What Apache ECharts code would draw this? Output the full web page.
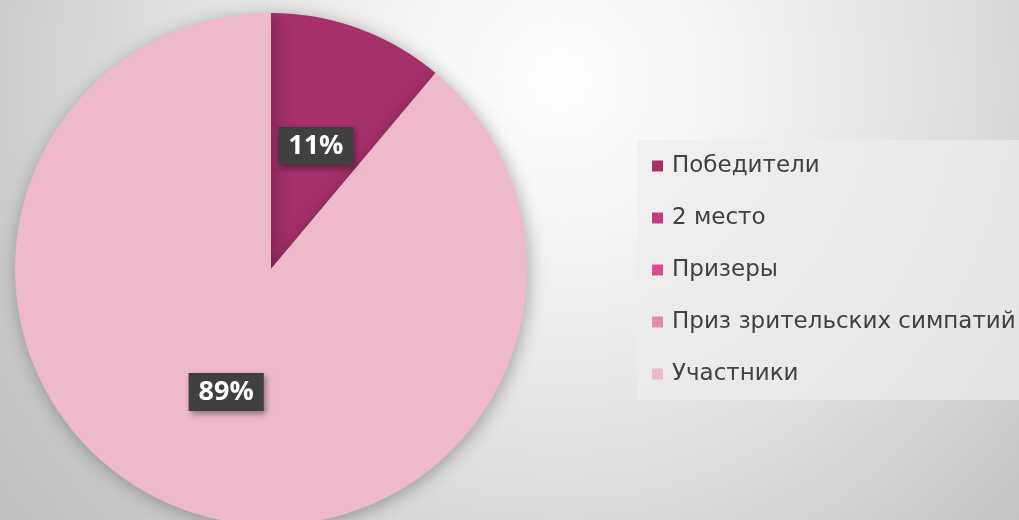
<!DOCTYPE html>
<html><head><meta charset="utf-8">
<script src="https://cdn.jsdelivr.net/npm/echarts@6/dist/echarts.min.js"></script>
<style>html,body{margin:0;padding:0;}#c{width:1019px;height:520px;}</style>
</head><body><div id="c"></div>
<script>
const categories = ['Победители', '2 место', 'Призеры', 'Приз зрительских симпатий', 'Участники'];
const values = [1, 0, 0, 0, 8];
const colors = ['#A5306A', '#C43D80', '#E04891', '#E68AB0', '#EEBACB'];

const chart = echarts.init(document.getElementById('c'));
const data = categories.map((n, i) => ({
  name: n, value: values[i],
  itemStyle: {color: colors[i]},
  label: {show: values[i] > 0}
}));
chart.setOption({
  backgroundColor: {type: 'radial', x: 560, y: 80, r: 700, global: true,
    colorStops: [{offset: 0, color: '#FFFFFF'}, {offset: 0.15, color: '#F8F8F8'}, {offset: 0.6, color: '#DDDDDD'}, {offset: 0.86, color: '#C7C7C7'}, {offset: 1, color: '#C0C0C0'}]},
  legend: {
    orient: 'vertical', left: 637, top: 140,
    data: categories,
    icon: 'rect', itemWidth: 11, itemHeight: 11, itemGap: 28, itemStyle: {borderWidth: 0},
    backgroundColor: 'rgba(236,236,236,0.7)',
    padding: [14, 40, 14, 15],
    textStyle: {fontFamily: 'DejaVu Sans', fontSize: 23, color: '#404040', lineHeight: 24, padding: [0, 0, 0, 4]}
  },
  series: [{
    type: 'pie', center: [271, 269], radius: 256, startAngle: 90,
    data: data, animation: false, silent: true,
    itemStyle: {shadowBlur: 18, shadowColor: 'rgba(0,0,0,0.3)', shadowOffsetX: 2, shadowOffsetY: 3},
    label: {
      position: 'inside',
      formatter: p => Math.round(p.percent) + '%',
      color: '#fff', fontFamily: 'Open Sans', fontWeight: 'bold', fontSize: 27,
      backgroundColor: '#404040', padding: [6, 10, 5, 10],
      shadowBlur: 6, shadowColor: 'rgba(0,0,0,0.4)', shadowOffsetX: 2, shadowOffsetY: 3
    },
    labelLine: {show: false}
  }]
});
</script></body></html>
